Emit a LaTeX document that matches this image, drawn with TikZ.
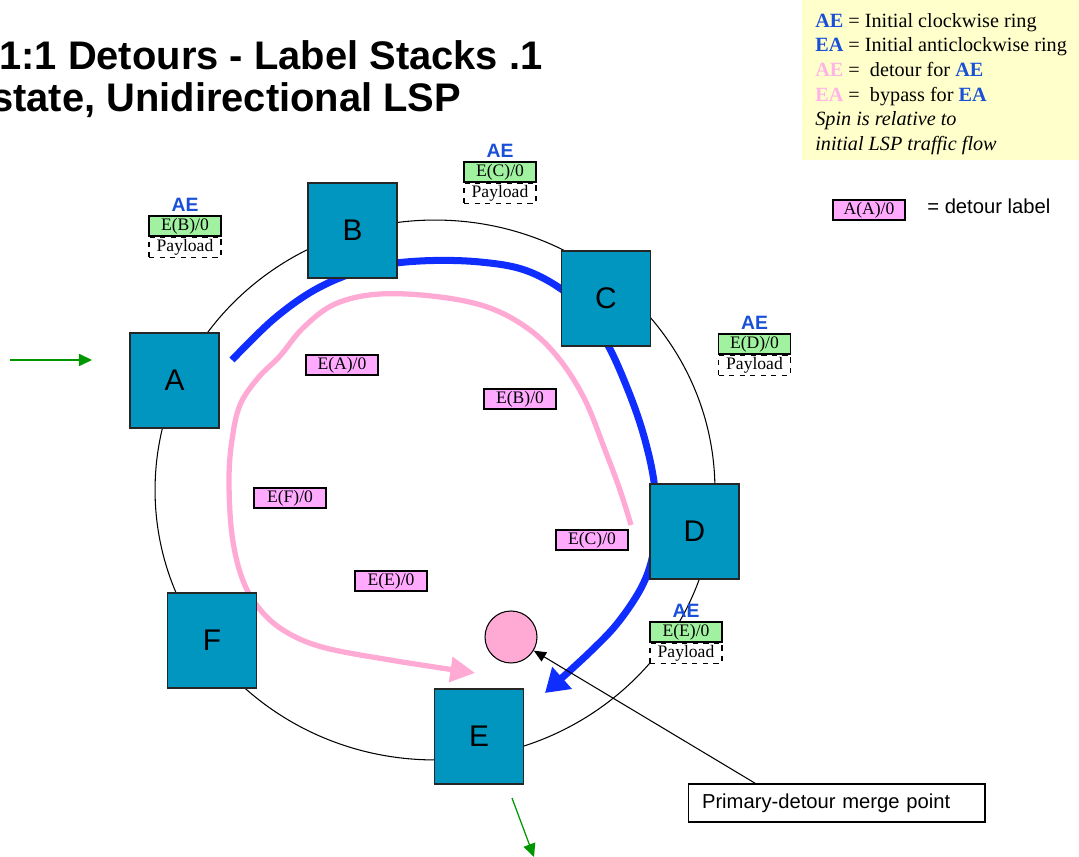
\documentclass[tikz,border=0pt]{standalone}
\usepackage{fontspec}
\setmainfont{Liberation Serif}
\setsansfont{Liberation Sans}
\usetikzlibrary{arrows.meta,positioning,calc}

% colours
\definecolor{routerteal}{RGB}{0,150,192}
\definecolor{lblgreen}{RGB}{160,242,160}
\definecolor{detourfill}{RGB}{255,170,255}
\definecolor{detourline}{RGB}{255,170,212}
\definecolor{primaryblue}{RGB}{15,45,255}
\definecolor{aeblue}{RGB}{25,80,215}
\definecolor{keypink}{RGB}{255,180,232}
\definecolor{keyfill}{RGB}{255,255,204}
\definecolor{flowgreen}{RGB}{0,150,0}

% fonts
\newcommand\lblfont{\fontsize{10}{10}\selectfont}

\tikzset{
  headline/.style={inner sep=0pt, font=\sffamily\bfseries\fontsize{22.7}{24}\selectfont},
  keytext/.style={inner sep=0pt, align=left, font=\fontsize{11.5}{14}\selectfont},
  router/.style={draw=black!85, line width=0.8pt, fill=routerteal,
    minimum width=1.78cm, minimum height=1.9cm, inner sep=0pt,
    font=\sffamily\fontsize{17}{17}\selectfont},
  lbl/.style={draw, line width=0.6pt, fill=lblgreen, minimum width=1.44cm,
    minimum height=0.4cm, inner sep=0pt, font=\lblfont},
  pay/.style={draw, dashed, line width=0.6pt, fill=white, minimum width=1.44cm,
    minimum height=0.4cm, inner sep=0pt, font=\lblfont},
  dlbl/.style={draw, line width=0.6pt, fill=detourfill, minimum width=1.44cm,
    minimum height=0.4cm, inner sep=0pt, font=\lblfont},
  spin/.style={inner sep=0pt, text=aeblue, font=\sffamily\bfseries\fontsize{11}{11}\selectfont},
  plain/.style={inner sep=0pt, font=\sffamily\fontsize{11.5}{12}\selectfont},
  note/.style={draw, line width=0.6pt, fill=white, inner xsep=0.28cm, text width=5.38cm,
    align=left, minimum height=0.76cm, font=\sffamily\fontsize{11.5}{12}\selectfont},
  mergedot/.style={circle, draw, line width=0.6pt, fill=detourline, minimum size=1.04cm, inner sep=0pt},
  ring/.style={line width=0.6pt},
  primary/.style={primaryblue, line width=4pt, -{Triangle[length=13pt,width=16pt]}},
  detour/.style={detourline, line width=3pt, -{Triangle[length=14pt,width=14pt]}},
  flow/.style={flowgreen, line width=0.7pt, -{Triangle[length=7.5pt,width=7pt]}},
  pointer/.style={black, line width=0.6pt, -{Triangle[length=7pt,width=6pt]}}
}

\begin{document}
\begin{tikzpicture}[x=0.02cm,y=-0.02cm]

% page size
\useasboundingbox (0,0) rectangle (1079,857);

% title
\node[headline, anchor=base west] (t1) at (-1,70) {1:1 Detours - Label Stacks .1};
\node[headline, anchor=base west] (t2) at (-9,112) {state, Unidirectional LSP};

% key
\fill[keyfill] (802,0) rectangle (1079,160);
\node[keytext, anchor=north west] (key) at (815,13) {%
  \textbf{\textcolor{aeblue}{AE}} = Initial clockwise ring\\
  \textbf{\textcolor{aeblue}{EA}} = Initial anticlockwise ring\\
  \textbf{\textcolor{keypink}{AE}} =\ \ detour for \textbf{\textcolor{aeblue}{AE}}\\
  \textbf{\textcolor{keypink}{EA}} =\ \ bypass for \textbf{\textcolor{aeblue}{EA}}\\
  \textit{Spin is relative to}\\
  \textit{initial LSP traffic flow}};

% ring
\draw[ring] (435,490) ellipse [x radius=5.6cm, y radius=5.4cm];

% primary LSP A->E
\draw[primary] plot[smooth, tension=0.6] coordinates {(232,360) (275,318) (320,287)
  (370,268) (420,261) (480,262) (530,272) (575,300) (605,340) (628,390) (645,440)
  (655,490) (655,540) (645,580) (620,620) (590,652) (545,693)};

% detour
\draw[detour] plot[smooth, tension=0.6] coordinates {(631,525) (620,490) (605,450)
  (585,400) (560,360) (530,330) (490,308) (440,297) (380,294) (335,304) (303,328)
  (280,356) (258,378) (240,405) (232,440) (229,480) (232,535) (242,578) (258,607)
  (283,630) (322,647) (390,660) (475,673)};

% routers
\node[router] (A) at (174.5,380.5) {A};
\node[router] (B) at (352.5,230.5) {B};
\node[router] (C) at (606,298.5) {C};
\node[router] (D) at (694.5,531.5) {D};
\node[router] (E) at (479,736.5) {E};
\node[router] (F) at (212,640.5) {F};

% label stacks
\node[lbl] (sB) at (185,226) {E(B)/0};
\node[pay, below=0pt of sB] (sBp) {Payload};
\node[spin, above=2pt of sB] (sBs) {AE};

\node[lbl] (sC) at (500,172) {E(C)/0};
\node[pay, below=0pt of sC] (sCp) {Payload};
\node[spin, above=2pt of sC] (sCs) {AE};

\node[lbl] (sD) at (754.5,344) {E(D)/0};
\node[pay, below=0pt of sD] (sDp) {Payload};
\node[spin, above=2pt of sD] (sDs) {AE};

\node[lbl] (sE) at (686,632) {E(E)/0};
\node[pay, below=0pt of sE] (sEp) {Payload};
\node[spin, above=2pt of sE] (sEs) {AE};

% detour labels
\node[dlbl] (dA) at (342,365) {E(A)/0};
\node[dlbl] (dB) at (520,399) {E(B)/0};
\node[dlbl] (dF) at (290,498) {E(F)/0};
\node[dlbl] (dC) at (592,540) {E(C)/0};
\node[dlbl] (dE) at (391,581) {E(E)/0};

% detour label key
\node[dlbl] (dkey) at (869,210) {A(A)/0};
\node[plain, anchor=west] (dkeytext) at (927,206) {= detour label};

% merge point
\node[mergedot] (mp) at (511,637) {};
\node[note] (mpnote) at (836.5,803) {Primary-detour merge point};
\coordinate (mpfoot) at ($(mpnote.north west)+(68,0)$);
\draw[pointer] (mpfoot) -- (mp);

% traffic in and out
\coordinate (inTail) at (10,360);
\coordinate (inHead) at (92,360);
\draw[flow] (inTail) -- (inHead);
\coordinate (outTail) at (512,798);
\coordinate (outHead) at (534,857);
\draw[flow] (outTail) -- (outHead);

\end{tikzpicture}
\end{document}
